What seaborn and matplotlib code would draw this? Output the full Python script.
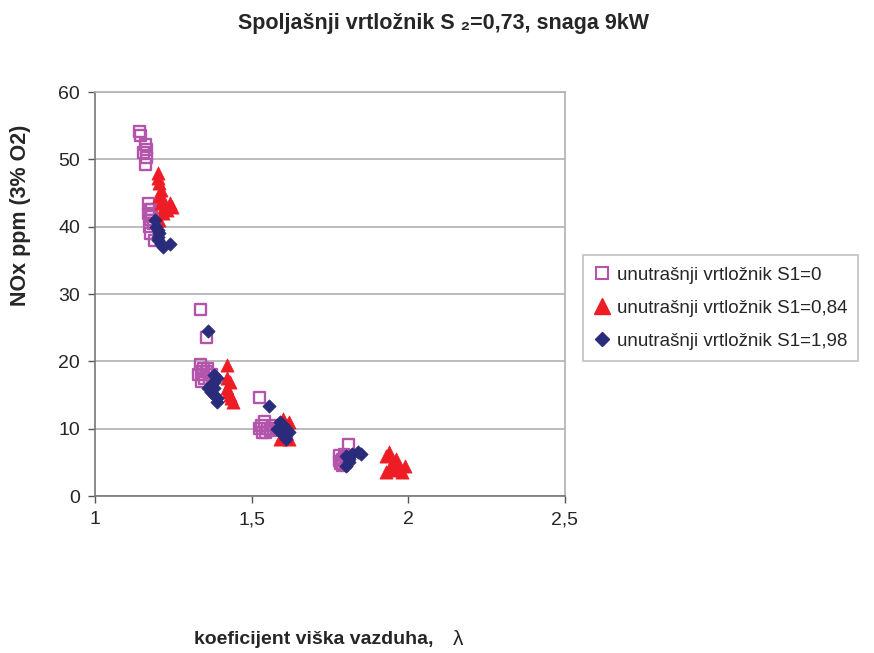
import matplotlib
matplotlib.use("Agg")
import matplotlib.pyplot as plt
import seaborn as sns
import numpy as np
import pandas as pd

# koeficijent viska vazduha (lambda) and NOx ppm for each inner swirler
lam_s0 = [1.14, 1.145, 1.16, 1.165, 1.155, 1.165, 1.16, 1.17, 1.175, 1.17, 1.18, 1.175, 1.19,
          1.172, 1.178, 1.185, 1.18,
          1.335, 1.355, 1.335, 1.34, 1.345, 1.35, 1.34, 1.355, 1.33, 1.36, 1.37, 1.345, 1.365,
          1.525, 1.53, 1.535, 1.55, 1.57, 1.58, 1.6, 1.61, 1.525, 1.54, 1.56, 1.545,
          1.81, 1.78, 1.79, 1.8, 1.785, 1.795, 1.78, 1.79, 1.8]
nox_s0 = [54.2, 53.5, 52.2, 51.5, 51.0, 50.3, 49.3, 43.5, 42.5, 42.0, 41.5, 41.0, 38.0,
          40.0, 39.0, 40.5, 42.5,
          27.7, 23.5, 19.5, 18.5, 18.0, 17.5, 17.0, 18.5, 18.0, 19.0, 18.0, 19.0, 17.5,
          14.6, 10.5, 9.5, 10.0, 10.5, 10.0, 10.5, 9.5, 10.0, 11.0, 9.8, 9.5,
          7.7, 6.0, 5.5, 5.0, 4.8, 6.2, 5.2, 4.6, 5.8]

lam_s084 = [1.2, 1.2, 1.205, 1.21, 1.205, 1.215, 1.21, 1.22, 1.23, 1.24, 1.245, 1.215, 1.205,
            1.42, 1.42, 1.43, 1.42, 1.43, 1.44, 1.435, 1.425,
            1.6, 1.62, 1.6, 1.61, 1.62, 1.59,
            1.93, 1.94, 1.95, 1.96, 1.97, 1.94, 1.93, 1.98, 1.99, 1.95]
nox_s084 = [48.0, 47.3, 46.5, 45.5, 44.5, 44.0, 43.5, 43.0, 42.5, 43.5, 43.0, 42.0, 41.0,
            19.5, 17.5, 17.0, 16.0, 15.0, 14.0, 14.5, 15.5,
            11.5, 11.0, 10.0, 9.0, 8.5, 8.5,
            6.0, 6.5, 5.0, 5.5, 4.5, 4.0, 3.5, 3.5, 4.5, 3.8]

lam_s198 = [1.19, 1.195, 1.2, 1.205, 1.2, 1.21, 1.215, 1.24, 1.2,
            1.36, 1.38, 1.39, 1.38, 1.37, 1.38, 1.37, 1.38, 1.39, 1.39, 1.36,
            1.555, 1.59, 1.6, 1.61, 1.62, 1.6, 1.61, 1.58,
            1.8, 1.81, 1.8, 1.82, 1.84, 1.85, 1.81]
nox_s198 = [41.0, 40.0, 39.5, 39.0, 38.0, 37.5, 37.0, 37.5, 38.5,
            24.5, 18.0, 17.5, 17.0, 16.5, 16.0, 15.5, 15.0, 14.5, 14.0, 16.0,
            13.3, 11.0, 10.5, 10.0, 9.5, 9.0, 8.5, 10.0,
            6.0, 5.0, 4.5, 6.2, 6.5, 6.3, 5.5]

labels = ["unutrašnji vrtložnik S1=0", "unutrašnji vrtložnik S1=0,84", "unutrašnji vrtložnik S1=1,98"]
xticks = [1, 1.5, 2, 2.5]
xticklabels = ["1", "1,5", "2", "2,5"]
yticks = [0, 10, 20, 30, 40, 50, 60]

sns.set_theme(style="white")
plt.rcParams['font.family'] = ['Liberation Sans', 'DejaVu Sans']

fig = plt.figure(figsize=(8.74, 6.53), dpi=100, facecolor='white')
ax = fig.add_axes([0.109, 0.2404, 0.537, 0.6186])

series = [
    (lam_s0, nox_s0, 's', '#B455AC', 'none', 62),
    (lam_s084, nox_s084, '^', '#EE1C25', '#EE1C25', 90),
    (lam_s198, nox_s198, 'D', '#2B2B7C', '#2B2B7C', 46),
]
for (x, y, m, c, fc, s), lab in zip(series, labels):
    df = pd.DataFrame({'lam': x, 'nox': y})
    sns.scatterplot(data=df, x='lam', y='nox', marker=m, s=s, ax=ax,
                    facecolors=fc, edgecolor=c, linewidth=1.7 if fc == 'none' else 0.5,
                    color=c, label=lab, legend=False, zorder=3)

ax.set_xlim(1, 2.5)
ax.set_ylim(0, 60)
ax.set_xticks(xticks)
ax.set_xticklabels(xticklabels)
ax.set_yticks(yticks)
ax.tick_params(axis='both', labelsize=14, direction='out', length=5, width=1,
               color='#555555', bottom=True, left=True, pad=6)
ax.yaxis.grid(True, color='#B0B0B0', linewidth=1.2)
ax.set_axisbelow(True)
for side in ['top', 'right']:
    ax.spines[side].set_color('#B0B0B0')
for side in ['left', 'bottom']:
    ax.spines[side].set_color('#777777')
for sp in ax.spines.values():
    sp.set_linewidth(1.2)
ax.set_xlabel('')
ax.set_ylabel('')

fig.text(0.507, 0.964, "Spoljašnji vrtložnik S ₂=0,73, snaga 9kW", ha='center', va='center',
         fontsize=15.5, fontweight='bold')
fig.text(0.024, 0.67, "NOx ppm (3% O2)", rotation=90, ha='center', va='center',
         fontsize=15.5, fontweight='bold')
fig.text(0.222, 0.02, "koeficijent viška vazduha,", ha='left', va='center',
         fontsize=14, fontweight='bold')
fig.text(0.518, 0.02, "λ", ha='left', va='center', fontsize=15)

handles = [
    plt.Line2D([], [], marker='s', linestyle='', markersize=8, markerfacecolor='none',
               markeredgecolor='#B455AC', markeredgewidth=1.5),
    plt.Line2D([], [], marker='^', linestyle='', markersize=11, color='#EE1C25'),
    plt.Line2D([], [], marker='D', linestyle='', markersize=7.5, color='#2B2B7C'),
]
leg = fig.legend(handles, labels, loc='upper left', bbox_to_anchor=(0.667, 0.609),
                 fontsize=13.5, frameon=True, fancybox=False, handlelength=0.8,
                 handletextpad=0.4, labelspacing=0.85, borderpad=0.6, borderaxespad=0)
leg.get_frame().set_edgecolor('#B0B0B0')
leg.get_frame().set_linewidth(1.2)

fig.savefig('out.png', dpi=100, facecolor='white')
